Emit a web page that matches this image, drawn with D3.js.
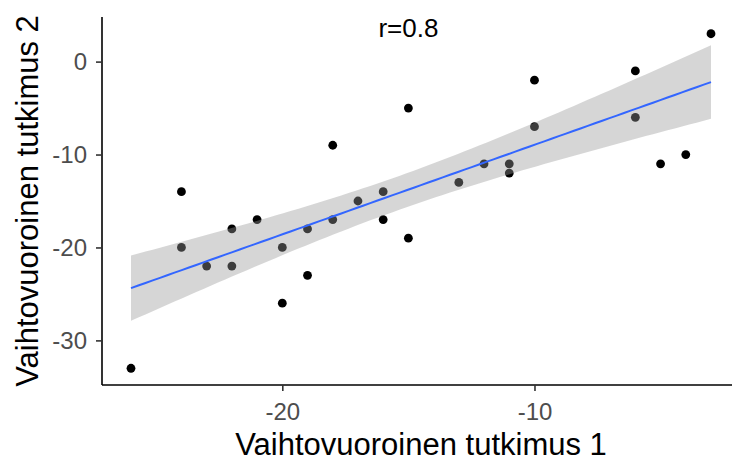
<!DOCTYPE html>
<html><head><meta charset="utf-8">
<script src="https://cdn.jsdelivr.net/npm/d3@7"></script>
<style>body{margin:0;background:#fff;} svg{display:block;font-family:"Liberation Sans",Arial,sans-serif;}</style>
</head><body><svg id="c" width="732" height="463"></svg>
<script>
const xVals = [-26,-24,-24,-23,-22,-22,-21,-20,-20,-19,-19,-18,-18,-17,-16,-16,-15,-15,-13,-12,-11,-11,-10,-10,-6,-6,-5,-4,-3];
const yVals = [-33,-14,-20,-22,-18,-22,-17,-20,-26,-18,-23,-9,-17,-15,-14,-17,-5,-19,-13,-11,-11,-12,-2,-7,-1,-6,-11,-10,3];
const xTicks = [-20,-10];
const yTicks = [0,-10,-20,-30];
const xTitle = "Vaihtovuoroinen tutkimus 1";
const yTitle = "Vaihtovuoroinen tutkimus 2";
const annotation = {x:-15, y:3.3, label:"r=0.8"};
const tCrit = 2.0518; // qt(0.975, 27)

(function(){
const svg = d3.select("#c");
const pL = 102, pR = 740, pT = 17, pB = 385;
const xExt = d3.extent(xVals), yExt = d3.extent(yVals);
const xPad = (xExt[1]-xExt[0])*0.05, yPad = (yExt[1]-yExt[0])*0.05;
const x = d3.scaleLinear().domain([xExt[0]-xPad, xExt[1]+xPad]).range([pL,pR]);
const y = d3.scaleLinear().domain([yExt[0]-yPad, yExt[1]+yPad]).range([pB,pT]);

const n = xVals.length;
const mx = d3.mean(xVals), my = d3.mean(yVals);
let sxx=0, sxy=0;
for(let i=0;i<n;i++){ sxx += (xVals[i]-mx)**2; sxy += (xVals[i]-mx)*(yVals[i]-my); }
const b = sxy/sxx, a = my - b*mx;
let sse=0; for(let i=0;i<n;i++){ sse += (yVals[i]-(a+b*xVals[i]))**2; }
const s = Math.sqrt(sse/(n-2));
const grid = d3.range(0,81).map(i => xExt[0] + (xExt[1]-xExt[0])*i/80);
const fit = grid.map(g => {
  const yh = a + b*g;
  const se = s*Math.sqrt(1/n + (g-mx)**2/sxx);
  return {x:g, y:yh, lo:yh - tCrit*se, hi:yh + tCrit*se};
});

svg.append("g").selectAll("circle").data(xVals.map((v,i)=>({x:v,y:yVals[i]}))).join("circle")
  .attr("cx", d=>x(d.x)).attr("cy", d=>y(d.y)).attr("r", 4.4).attr("fill","#000");

svg.append("path").datum(fit)
  .attr("d", d3.area().x(d=>x(d.x)).y0(d=>y(d.lo)).y1(d=>y(d.hi)))
  .attr("fill","#999999").attr("fill-opacity",0.4);
svg.append("path").datum(fit)
  .attr("d", d3.line().x(d=>x(d.x)).y(d=>y(d.y)))
  .attr("fill","none").attr("stroke","#3366FF").attr("stroke-width",2);

const fmt = d => String(d);
const xAxis = svg.append("g").attr("transform",`translate(0,${pB})`)
  .call(d3.axisBottom(x).tickValues(xTicks).tickFormat(fmt).tickSize(6).tickPadding(4).tickSizeOuter(0));
const yAxis = svg.append("g").attr("transform",`translate(${pL},0)`)
  .call(d3.axisLeft(y).tickValues(yTicks).tickFormat(fmt).tickSize(6).tickPadding(9).tickSizeOuter(0));
xAxis.select(".domain").attr("d",`M${pL},0H${pR}`);
yAxis.select(".domain").attr("d",`M0,${pT}V${pB}`);
[xAxis,yAxis].forEach(g=>{
  g.select(".domain").attr("stroke","#000").attr("stroke-width",1.6);
  g.selectAll(".tick line").attr("stroke","#333").attr("stroke-width",1.6);
  g.selectAll(".tick text").attr("fill","#4D4D4D").attr("font-size",24).attr("font-family","Liberation Sans, Arial, sans-serif");
});
xAxis.selectAll(".tick text").attr("dy",null).attr("y",35);

svg.append("text").attr("x",(pL+pR)/2).attr("y",455).attr("text-anchor","middle")
  .attr("font-size",31).attr("fill","#000").text(xTitle);
svg.append("text").attr("transform",`translate(38,${(pT+pB)/2}) rotate(-90)`).attr("text-anchor","middle")
  .attr("font-size",31).attr("fill","#000").text(yTitle);
svg.append("text").attr("x",x(annotation.x)).attr("y",37).attr("text-anchor","middle")
  .attr("font-size",26).attr("fill","#000").text(annotation.label);
})();
</script></body></html>
